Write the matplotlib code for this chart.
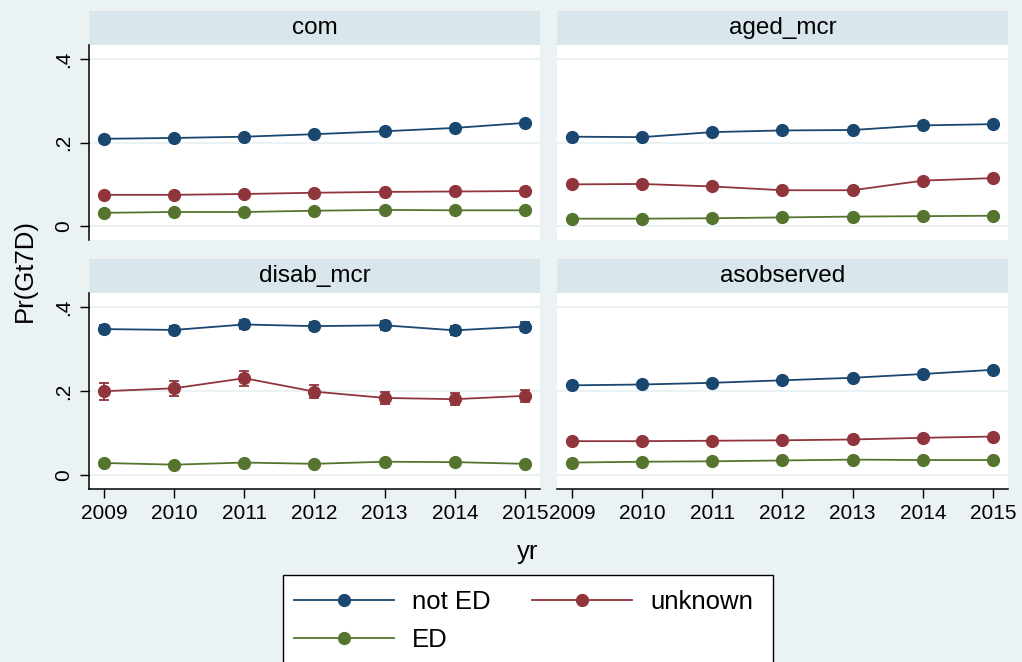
import matplotlib
matplotlib.use("Agg")
import matplotlib.pyplot as plt
from matplotlib.patches import Rectangle
from matplotlib.lines import Line2D

plt.rcParams["font.family"] = ["Liberation Sans", "DejaVu Sans"]

# ---- data -------------------------------------------------------------
years = [2009, 2010, 2011, 2012, 2013, 2014, 2015]
panels = ["com", "aged_mcr", "disab_mcr", "asobserved"]
groups = ["not ED", "unknown", "ED"]
colors = ["#1A476F", "#90353B", "#55752F"]

com_not_ed = [0.209, 0.211, 0.214, 0.220, 0.227, 0.235, 0.247]
com_unknown = [0.075, 0.075, 0.077, 0.080, 0.082, 0.083, 0.084]
com_ed = [0.032, 0.034, 0.034, 0.037, 0.039, 0.038, 0.038]

aged_not_ed = [0.214, 0.213, 0.225, 0.229, 0.230, 0.241, 0.244]
aged_unknown = [0.100, 0.101, 0.095, 0.086, 0.086, 0.109, 0.115]
aged_ed = [0.018, 0.018, 0.019, 0.021, 0.023, 0.024, 0.025]

disab_not_ed = [0.348, 0.346, 0.359, 0.355, 0.357, 0.345, 0.354]
disab_unknown = [0.200, 0.207, 0.231, 0.199, 0.184, 0.181, 0.189]
disab_ed = [0.029, 0.025, 0.030, 0.027, 0.032, 0.031, 0.027]

asobs_not_ed = [0.214, 0.216, 0.220, 0.226, 0.232, 0.241, 0.251]
asobs_unknown = [0.081, 0.081, 0.082, 0.083, 0.085, 0.089, 0.092]
asobs_ed = [0.030, 0.032, 0.033, 0.035, 0.037, 0.036, 0.036]

# half-widths of the 95% confidence intervals
com_ci = [[0.002] * 7, [0.002] * 7, [0.001] * 7]
aged_ci = [[0.004] * 7, [0.004] * 7, [0.002] * 7]
disab_ci = [[0.010, 0.010, 0.011, 0.010, 0.010, 0.010, 0.010],
            [0.020, 0.018, 0.018, 0.016, 0.014, 0.015, 0.015],
            [0.004, 0.004, 0.004, 0.004, 0.004, 0.004, 0.004]]
asobs_ci = [[0.002] * 7, [0.002] * 7, [0.001] * 7]

values = {
    "com": [com_not_ed, com_unknown, com_ed],
    "aged_mcr": [aged_not_ed, aged_unknown, aged_ed],
    "disab_mcr": [disab_not_ed, disab_unknown, disab_ed],
    "asobserved": [asobs_not_ed, asobs_unknown, asobs_ed],
}
cis = {"com": com_ci, "aged_mcr": aged_ci, "disab_mcr": disab_ci,
       "asobserved": asobs_ci}

yticks = [0, 0.2, 0.4]
ytick_labels = ["0", ".2", ".4"]

# ---- style --------------------------------------------------------------
BG = "#EAF2F3"
STRIP = "#D9E6EB"
W, H = 1022, 662


def fig_box(x0, y0, x1, y1):
    return [x0 / W, 1 - y1 / H, (x1 - x0) / W, (y1 - y0) / H]


fig = plt.figure(figsize=(W / 100, H / 100), dpi=100, facecolor=BG)

# panel geometry (pixel columns / rows)
cols = [(89, 540), (557, 1008)]
rows = [((11, 44.7), (44.7, 240)), ((259, 293), (293, 489))]

for i, name in enumerate(panels):
    r, c = divmod(i, 2)
    x0, x1 = cols[c]
    (s0, s1), (p0, p1) = rows[r]

    # strip header
    fig.add_artist(Rectangle((x0 / W, 1 - s1 / H), (x1 - x0) / W, (s1 - s0) / H,
                             transform=fig.transFigure, facecolor=STRIP,
                             edgecolor="none", zorder=0))
    fig.text((x0 + x1) / 2 / W, 1 - (s0 + s1) / 2 / H, name, ha="center",
             va="center", fontsize=17.5, color="black")

    ax = fig.add_axes(fig_box(x0, p0, x1, p1))
    ax.set_facecolor("white")
    ax.set_xlim(2008.786, 2015.214)
    ax.set_ylim(-0.033, 0.434)
    for y in yticks:
        ax.axhline(y, color=BG, lw=1.4, zorder=0)

    for g, col in enumerate(colors):
        ax.errorbar(years, values[name][g], yerr=cis[name][g], fmt="-o",
                    color=col, ms=8.5, lw=1.3, elinewidth=1.3, capsize=3.8,
                    capthick=1.3, zorder=3)

    for side in ["top", "right"]:
        ax.spines[side].set_visible(False)
    ax.spines["left"].set_visible(c == 0)
    ax.spines["bottom"].set_visible(r == 1)
    for side in ["left", "bottom"]:
        ax.spines[side].set_color("black")
        ax.spines[side].set_linewidth(1.1)

    ax.set_yticks(yticks)
    if c == 0:
        ax.set_yticklabels(ytick_labels, rotation=90, va="center",
                           fontsize=15)
        ax.tick_params(axis="y", length=6.5, width=1.0, pad=5,
                       color="black")
    else:
        ax.tick_params(axis="y", left=False, labelleft=False)

    ax.set_xticks(years)
    if r == 1:
        ax.set_xticklabels([str(y) for y in years], fontsize=15)
        ax.tick_params(axis="x", length=6.5, width=1.0, pad=4,
                       color="black")
    else:
        ax.tick_params(axis="x", bottom=False, labelbottom=False)

# axis titles
fig.text(25 / W, 1 - 271 / H, "Pr(Gt7D)", rotation=90, ha="center",
         va="center", fontsize=18.5)
fig.text(528 / W, 1 - 552 / H, "yr", ha="center", va="center",
         fontsize=18.5)

# legend box and entries
fig.add_artist(Rectangle((283 / W, 1 - 680 / H), (773 - 283) / W,
                         (680 - 575) / H, transform=fig.transFigure,
                         facecolor="white", edgecolor="black", lw=1.0,
                         zorder=1))
handles = [Line2D([], [], color=colors[g], marker="o", ms=8.5, lw=1.3)
           for g in range(3)]
order = [0, 2, 1]
leg = fig.legend([handles[k] for k in order], [groups[k] for k in order],
                 loc="upper left", bbox_to_anchor=(294 / W, 1 - 590 / H),
                 ncol=2, frameon=False, fontsize=18.5, handlelength=3.9,
                 handletextpad=0.7, columnspacing=1.6, labelspacing=0.55,
                 borderpad=0, borderaxespad=0)
leg.set_zorder(2)

fig.savefig("out.png", dpi=100, facecolor=BG)
